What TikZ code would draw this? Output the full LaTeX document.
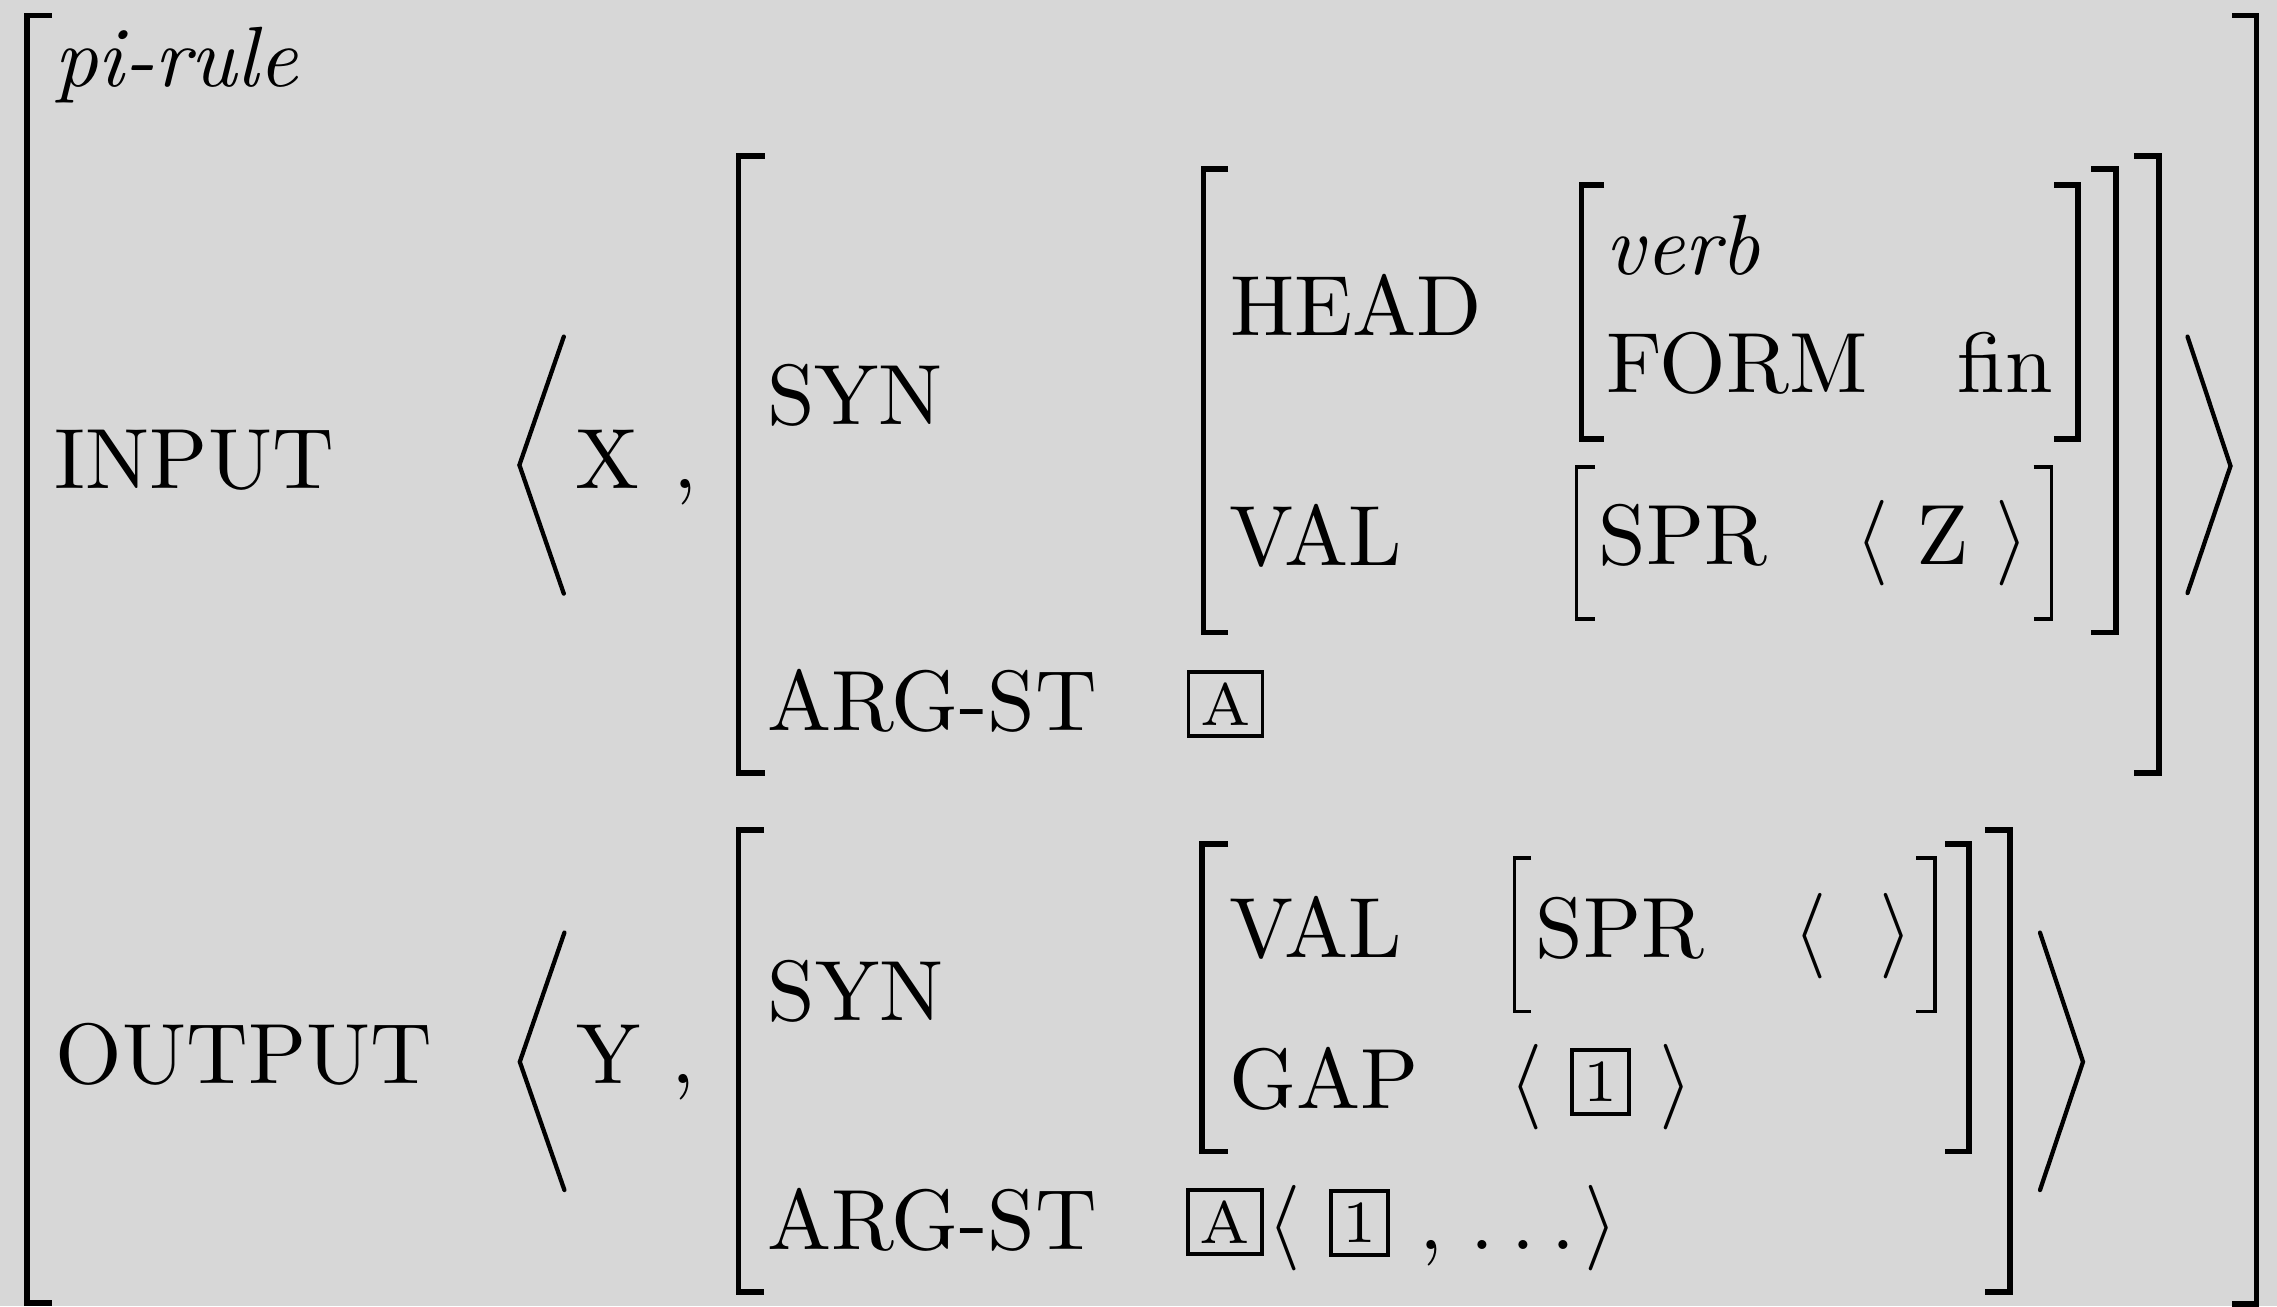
\documentclass[tikz,border=0pt]{standalone}
\definecolor{bg}{RGB}{215,215,215}
\newcommand{\px}{0.116959pt}
\newcommand{\brk}[5][bigbr]{\draw[#1] (#3,#4) -- (#2,#4) -- (#2,#5) -- (#3,#5);}
\tikzset{
  t/.style={anchor=base, inner sep=0pt, outer sep=0pt, font=\normalsize},
  bigbr/.style={line width=0.64pt, line join=miter, line cap=butt},
  smbr/.style={line width=0.42pt, line join=miter, line cap=butt},
  ang/.style={line width=0.5pt, line join=miter, line cap=round},
  tagbox/.style={draw, line width=0.45pt, inner sep=0pt, outer sep=0pt, anchor=center,
     minimum height=7.5pt, font=\scriptsize},
}
\begin{document}
\begin{tikzpicture}[x=\px, y=-\px]
\useasboundingbox[fill=bg] (0,0) rectangle (2277,1306);

% outer matrix
\brk{27}{52}{15.5}{1303}
\brk{2256.5}{2232}{15.5}{1304}
\node[t] (pirule) at (176,86) {\itshape pi-rule};

% ---------- INPUT ----------
\node[t] (input) at (194.5,488.5) {INPUT};
\draw[ang] (563.8,336.6) -- (519.4,465) -- (563.8,593.6);
\node[t] (x) at (608,488.5) {X};
\node[t] (c1) at (685,488.5) {,};
\brk{738.5}{764.5}{156}{773}
\brk{2159}{2134}{156}{773}
\draw[ang] (2187.5,336.6) -- (2230.5,466) -- (2187.5,593);
\node[t] (syn1) at (855,424.5) {SYN};
\node[t] (arg1) at (932,730.8) {ARG-ST};
\node[tagbox, minimum width=8.66pt] (tagA1) at (1225.5,703.7) {A};
\brk{1203.5}{1228}{169}{632.5}
\brk{2116}{2091}{169}{632.5}
\node[t] (head) at (1356,335.5) {HEAD};
\node[t] (val1) at (1316,565.6) {VAL};
\brk{1581.5}{1604}{185}{439}
\brk{2078}{2054}{185}{439}
\node[t] (verb) at (1683,274) {\itshape verb};
\node[t] (form) at (1737,392.4) {FORM};
\node[t] (fin) at (2005,392.4) {fin};
\brk[smbr]{1576.5}{1595}{467}{619}
\brk[smbr]{2051.6}{2033.7}{467}{619}
\node[t] (spr1) at (1683,564.5) {SPR};
\node[t] (la1) at (1872,564.5) {$\langle$};
\node[t] (z) at (1942.5,564.5) {Z};
\node[t] (ra1) at (2012,564.5) {$\rangle$};

% ---------- OUTPUT ----------
\node[t] (output) at (244,1083.6) {OUTPUT};
\draw[ang] (564.4,932.6) -- (519.8,1061.8) -- (564.4,1190);
\node[t] (y) at (609,1083.6) {Y};
\node[t] (c2) at (683,1083.6) {,};
\brk{738.5}{764}{830}{1292}
\brk{2010}{1985}{830}{1292}
\draw[ang] (2040,932.6) -- (2083,1061.8) -- (2040,1190);
\node[t] (syn2) at (855.5,1020) {SYN};
\node[t] (arg2) at (932,1249.3) {ARG-ST};
\brk{1202}{1228}{844}{1151.5}
\brk{1969}{1945}{844}{1151.5}
\node[t] (val2) at (1316,957) {VAL};
\brk[smbr]{1514.5}{1531}{858}{1011.5}
\brk[smbr]{1935}{1916}{858}{1011.5}
\node[t] (spr2) at (1620,957) {SPR};
\node[t] (la2) at (1810,957) {$\langle$};
\node[t] (ra2) at (1896,957) {$\rangle$};
\node[t] (gap) at (1324,1108.7) {GAP};
\node[t] (la3) at (1526,1108.7) {$\langle$};
\node[tagbox, minimum width=6.74pt] (tag1a) at (1600.5,1081.8) {1};
\node[t] (ra3) at (1676,1108.7) {$\rangle$};
\node[tagbox, minimum width=8.66pt] (tagA2) at (1225,1222) {A};
\node[t] (la4) at (1284.5,1249.3) {$\langle$};
\node[tagbox, minimum width=6.74pt] (tag1b) at (1359.5,1223) {1};
\node[t] (c3) at (1431,1249.3) {,};
\node[t] (dots) at (1523,1249.3) {.\kern0.195em.\kern0.195em.};
\node[t] (ra4) at (1601.5,1249.3) {$\rangle$};
\end{tikzpicture}
\end{document}
